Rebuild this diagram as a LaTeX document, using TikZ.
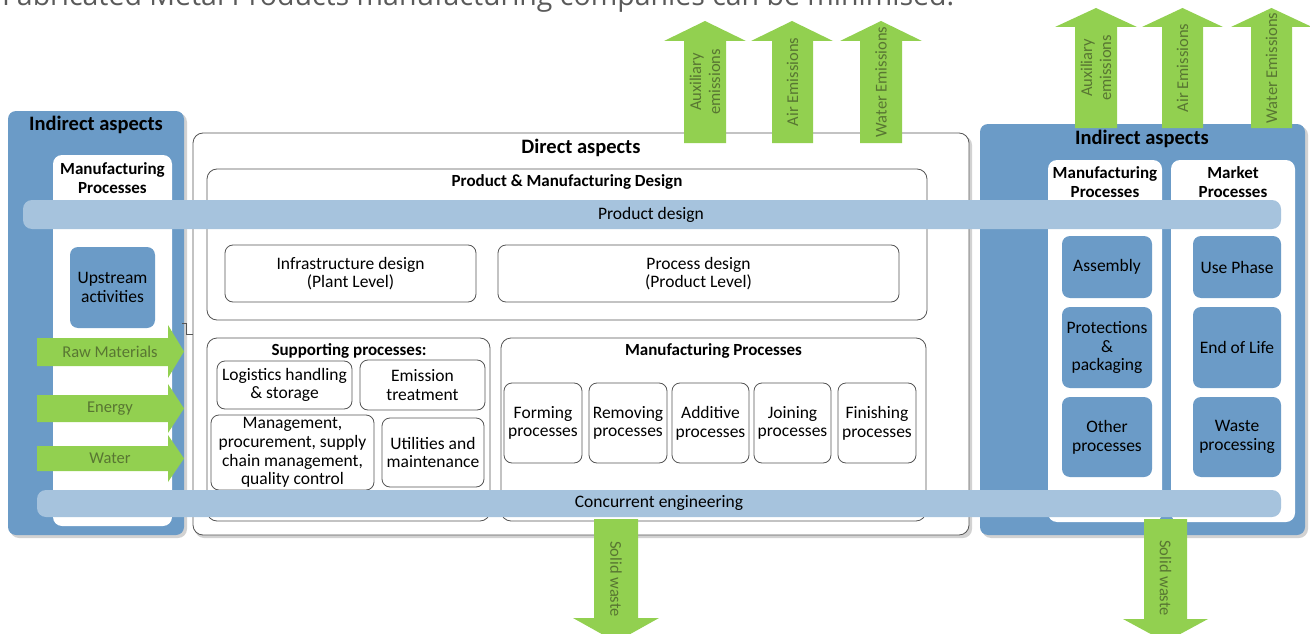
\documentclass[tikz,border=0pt]{standalone}
\usepackage{fontspec}
\setmainfont{Carlito}
\newfontfamily\headfont{Open Sans}
\definecolor{panelblue}{RGB}{107,155,199}
\definecolor{bandblue}{RGB}{166,195,221}
\definecolor{arrowgreen}{RGB}{146,208,80}
\definecolor{greentext}{RGB}{88,118,50}
\definecolor{bordergray}{RGB}{85,85,85}
\definecolor{shadowgray}{RGB}{210,210,210}
\definecolor{titlegray}{RGB}{90,90,90}
\tikzset{
  box/.style={draw=bordergray, line width=0.8pt, rounded corners=8pt, fill=white, align=center, inner sep=0pt, font=\fontsize{17.5}{18.7}\selectfont},
  bigbox/.style={draw=bordergray, line width=0.8pt, rounded corners=10pt, fill=white, inner sep=0pt},
  panel/.style={fill=panelblue, rounded corners=8pt, inner sep=0pt},
  whitecol/.style={fill=white, rounded corners=9pt, inner sep=0pt},
  blueitem/.style={fill=panelblue, rounded corners=8pt, align=center, inner sep=0pt, font=\fontsize{17.5}{18.7}\selectfont},
  band/.style={fill=bandblue, rounded corners=9pt, inner sep=0pt},
  bandtxt/.style={inner sep=0pt, font=\fontsize{17.5}{20}\selectfont},
  ttl/.style={font=\bfseries\fontsize{20.5}{24}\selectfont, inner sep=0pt},
  sub/.style={font=\bfseries\fontsize{17}{18.5}\selectfont, align=center, inner sep=0pt},
  greentxt/.style={text=greentext, font=\fontsize{16.5}{19}\selectfont, align=center, inner sep=0pt},
  shadow/.style={fill=shadowgray, rounded corners=9pt}
}
\begin{document}
\begin{tikzpicture}[x=1pt,y=-1pt]
\useasboundingbox (0,0) rectangle (1310,634);
\clip (0,0) rectangle (1310,634);

% cut-off heading
\node[anchor=base west, inner sep=0pt, text=titlegray, font=\headfont\fontsize{28.5}{32}\selectfont] (heading) at (2,6) {Fabricated Metal Products manufacturing companies can be minimised.};

% ---------- left indirect panel ----------
\fill[shadow] (10,113) rectangle (187,538);
\node[panel, minimum width=176, minimum height=424] (lpanel) at (96,323) {};
\node[ttl] (ltitle) at (96,125) {Indirect aspects};
\node[whitecol, minimum width=119, minimum height=371] (lcol) at (112.5,340.5) {};
\node[sub] (lcoltitle) at (112.5,178) {Manufacturing\\Processes};
\node[blueitem, minimum width=85, minimum height=81] (upstream) at (112.5,287.5) {Upstream\\activities};

% ---------- right indirect panel ----------
\fill[shadow] (982,126) rectangle (1308,538);
\node[panel, minimum width=325, minimum height=411] (rpanel) at (1142.5,329.5) {};
\node[ttl] (rtitle) at (1142,139) {Indirect aspects};
\node[whitecol, minimum width=114, minimum height=362] (rcolA) at (1105,341) {};
\node[whitecol, minimum width=124, minimum height=362] (rcolB) at (1233,341) {};
\node[sub] (rcolAtitle) at (1105,182) {Manufacturing\\Processes};
\node[sub] (rcolBtitle) at (1233,182) {Market\\Processes};
\node[blueitem, minimum width=90, minimum height=62] (assembly) at (1107,267) {Assembly};
\node[blueitem, minimum width=90, minimum height=81] (protect) at (1107,347.5) {Protections\\\&\\packaging};
\node[blueitem, minimum width=90, minimum height=80] (other) at (1107,437) {Other\\processes};
\node[blueitem, minimum width=88, minimum height=62] (use) at (1237,267) {Use Phase};
\node[blueitem, minimum width=88, minimum height=81] (eol) at (1237,347.5) {End of Life};
\node[blueitem, minimum width=88, minimum height=80] (waste) at (1237,437) {Waste\\processing};

% ---------- direct aspects ----------
\fill[shadow] (195,136) rectangle (972,538);
\node[bigbox, minimum width=776, minimum height=402] (direct) at (581,334) {};
\node[ttl] (dtitle) at (581,148) {Direct aspects};

\node[bigbox, minimum width=720, minimum height=151] (pmd) at (567,244.5) {};
\node[sub] (pmdtitle) at (567,182) {Product \& Manufacturing Design};
\node[box, minimum width=251, minimum height=57] (infra) at (350.5,273.5) {Infrastructure design\\(Plant Level)};
\node[box, minimum width=401, minimum height=57] (procdes) at (698.5,273.5) {Process design\\(Product Level)};

\node[bigbox, minimum width=283, minimum height=183] (support) at (348.5,429.5) {};
\node[sub] (supporttitle) at (349,351) {Supporting processes:};
\node[box, minimum width=135, minimum height=48] (logistics) at (284.5,385) {Logistics handling\\\& storage};
\node[box, minimum width=125, minimum height=50] (emission) at (422.5,385) {Emission\\treatment};
\node[box, minimum width=163, minimum height=75] (mgmt) at (292.5,452.5) {Management,\\procurement, supply\\chain management,\\quality control};
\node[box, minimum width=102, minimum height=69] (utilities) at (433,452.5) {Utilities and\\maintenance};

\node[bigbox, minimum width=425, minimum height=183] (mfg) at (713.5,429.5) {};
\node[sub] (mfgtitle) at (713.5,351) {Manufacturing Processes};
\node[box, minimum width=78, minimum height=80] (forming) at (543,423) {Forming\\processes};
\node[box, minimum width=78, minimum height=80] (removing) at (628,423) {Removing\\processes};
\node[box, minimum width=77, minimum height=80] (additive) at (710.5,423) {Additive\\processes};
\node[box, minimum width=77, minimum height=80] (joining) at (792.5,423) {Joining\\processes};
\node[box, minimum width=78, minimum height=80] (finishing) at (877,423) {Finishing\\processes};

% small step connector
\coordinate (stepA) at (182,323);
\draw[bordergray, line width=0.8pt] (stepA) -- (186,323) -- (186,334) -- (direct.west |- 0,334);

% ---------- bands ----------
\node[band, minimum width=1258, minimum height=29] (proddesign) at (652,214.5) {};
\node[bandtxt] (proddesigntxt) at (651,215) {Product design};
\node[band, minimum width=1244, minimum height=27] (concurrent) at (659,503.5) {};
\node[bandtxt] (concurrenttxt) at (659,503) {Concurrent engineering};

% ---------- green input arrows ----------
\fill[arrowgreen] (37,338) -- (168,338) -- (168,325) -- (184,351.5) -- (168,378) -- (168,366) -- (37,366) -- cycle;
\node[greentxt] (raw) at (110,352) {Raw Materials};
\fill[arrowgreen] (37,395) -- (168,395) -- (168,384) -- (184,408.5) -- (168,433) -- (168,422) -- (37,422) -- cycle;
\node[greentxt] (energy) at (110,408.5) {Energy};
\fill[arrowgreen] (37,446) -- (168,446) -- (168,435) -- (184,458.5) -- (168,482) -- (168,471) -- (37,471) -- cycle;
\node[greentxt] (water) at (110,458.5) {Water};

% ---------- green emission arrows (centre) ----------
\fill[arrowgreen] (684,143) -- (684,41) -- (664,41) -- (705,21) -- (746,41) -- (726,41) -- (726,143) -- cycle;
\node[greentxt, rotate=90] (auxA) at (705,82) {Auxiliary\\emissions};
\fill[arrowgreen] (772,143) -- (772,41) -- (751,41) -- (792,21) -- (833,41) -- (813,41) -- (813,143) -- cycle;
\node[greentxt, rotate=90] (airA) at (792.5,82) {Air Emissions};
\fill[arrowgreen] (860,143) -- (860,41) -- (840,41) -- (881,21) -- (922,41) -- (902,41) -- (902,143) -- cycle;
\node[greentxt, rotate=90] (waterA) at (881,82) {Water Emissions};

% ---------- green emission arrows (right) ----------
\fill[arrowgreen] (1075,128) -- (1075,27) -- (1055,27) -- (1096,8) -- (1137,27) -- (1117,27) -- (1117,128) -- cycle;
\node[greentxt, rotate=90] (auxB) at (1096,68) {Auxiliary\\emissions};
\fill[arrowgreen] (1162,128) -- (1162,27) -- (1142,27) -- (1182.5,8) -- (1223,27) -- (1203,27) -- (1203,128) -- cycle;
\node[greentxt, rotate=90] (airB) at (1182.5,68) {Air Emissions};
\fill[arrowgreen] (1251,128) -- (1251,27) -- (1231,27) -- (1271.5,8) -- (1312,27) -- (1292,27) -- (1292,128) -- cycle;
\node[greentxt, rotate=90] (waterB) at (1271.5,68) {Water Emissions};

% ---------- solid waste arrows ----------
\fill[arrowgreen] (594,519) -- (594,618) -- (573,618) -- (616,642) -- (659,618) -- (638,618) -- (638,519) -- cycle;
\node[greentxt, rotate=-90] (solidA) at (616,579) {Solid waste};
\fill[arrowgreen] (1144,519) -- (1144,619) -- (1123,619) -- (1165.5,642) -- (1208,619) -- (1187,619) -- (1187,519) -- cycle;
\node[greentxt, rotate=-90] (solidB) at (1165.5,578) {Solid waste};
\end{tikzpicture}
\end{document}
